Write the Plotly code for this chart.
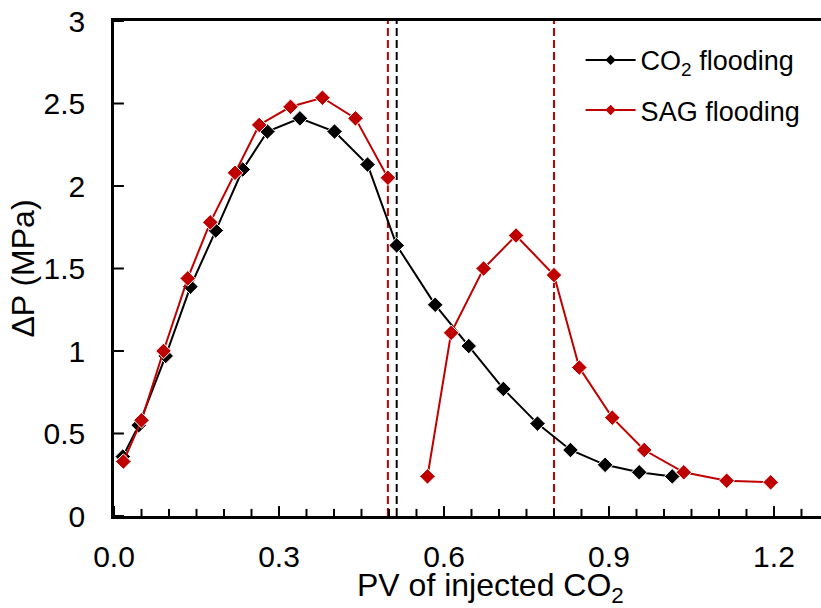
import plotly.graph_objects as go

# Pressure drop across the core vs. injected pore volumes
co2_pv = [0.016, 0.045, 0.094, 0.139, 0.185, 0.234, 0.279, 0.338, 0.401, 0.461,
          0.514, 0.584, 0.645, 0.708, 0.770, 0.830, 0.893, 0.955, 1.015]
co2_dp = [0.36, 0.55, 0.97, 1.39, 1.73, 2.10, 2.33, 2.41, 2.33, 2.13,
          1.64, 1.28, 1.03, 0.77, 0.56, 0.40, 0.31, 0.265, 0.24]

# SAG flooding: gas slug stage, then a break, then the following cycle
sag_pv = [0.017, 0.050, 0.090, 0.134, 0.175, 0.220, 0.264, 0.321, 0.379, 0.439, 0.498,
          None,
          0.570, 0.613, 0.672, 0.731, 0.800, 0.846, 0.906, 0.964, 1.036, 1.114, 1.194]
sag_dp = [0.33, 0.58, 1.00, 1.44, 1.78, 2.08, 2.37, 2.48, 2.535, 2.41, 2.05,
          None,
          0.24, 1.11, 1.50, 1.70, 1.46, 0.90, 0.596, 0.40, 0.265, 0.214, 0.204]

# Reference lines (breakthrough / slug switch points)
co2_marks = [0.514]
sag_marks = [0.498, 0.800]

# Axis ticks
x_major = [0.0, 0.3, 0.6, 0.9, 1.2]
x_minor = [0.05, 0.10, 0.15, 0.20, 0.25, 0.35, 0.40, 0.45, 0.50, 0.55,
           0.65, 0.70, 0.75, 0.80, 0.85, 0.95, 1.00, 1.05, 1.10, 1.15, 1.25]
y_major = [0, 0.5, 1, 1.5, 2, 2.5, 3]

BLACK = "#000000"
RED = "#C00000"
FONT = "Liberation Sans, Arial, sans-serif"

fig = go.Figure()

for xs, ys, col in [(co2_pv, co2_dp, BLACK), (sag_pv, sag_dp, RED)]:
    fig.add_trace(go.Scatter(
        x=xs, y=ys, mode="lines+markers", showlegend=False,
        line=dict(color=col, width=2),
        marker=dict(symbol="diamond", size=12, color=col,
                    line=dict(color="white", width=1)),
        connectgaps=False,
    ))

# Legend entries (smaller markers than the plotted points)
for name, col in [("CO<sub>2</sub> flooding", BLACK), ("SAG flooding", RED)]:
    fig.add_trace(go.Scatter(
        x=[None], y=[None], mode="lines+markers", name=name,
        line=dict(color=col, width=2),
        marker=dict(symbol="diamond", size=8, color=col),
        legendgroup=name,
    ))

for xv in co2_marks:
    fig.add_shape(type="line", xref="x", yref="paper", x0=xv, x1=xv, y0=0, y1=1,
                  line=dict(color=BLACK, width=2, dash="8px,4px"), layer="below")
for xv in sag_marks:
    fig.add_shape(type="line", xref="x", yref="paper", x0=xv, x1=xv, y0=0, y1=1,
                  line=dict(color=RED, width=2, dash="8px,4px"), layer="below")

# Inward tick marks along the bottom and left axes (lengths in axis units)
X_TICK_MAJOR, X_TICK_MINOR, Y_TICK = 0.06, 0.043, 0.018
for xv, ln in [(v, X_TICK_MAJOR) for v in x_major] + [(v, X_TICK_MINOR) for v in x_minor]:
    fig.add_shape(type="line", xref="x", yref="y",
                  x0=xv, x1=xv, y0=0, y1=ln,
                  line=dict(color=BLACK, width=2), layer="above")
for yv in y_major:
    fig.add_shape(type="line", xref="x", yref="y",
                  x0=0, x1=Y_TICK, y0=yv, y1=yv,
                  line=dict(color=BLACK, width=2), layer="above")

fig.add_annotation(text="PV of injected CO<sub>2</sub>", xref="paper", yref="paper",
                   x=0.532, y=-0.144, xanchor="center", yanchor="middle",
                   showarrow=False, font=dict(size=32, color=BLACK, family=FONT))

fig.update_layout(
    template="none",
    width=821, height=608,
    margin=dict(l=114, r=0, t=21, b=92),
    paper_bgcolor="white", plot_bgcolor="white",
    font=dict(family=FONT, color=BLACK, size=27),
    legend=dict(x=0.66, y=0.97, xanchor="left", yanchor="top",
                bgcolor="rgba(0,0,0,0)", font=dict(size=27),
                tracegroupgap=12, itemwidth=50),
    xaxis=dict(range=[0, 1.2855], tickmode="array", tickvals=x_major,
               tickformat=".1f", ticks="",
               showline=True, linecolor=BLACK, linewidth=2.5, mirror=True,
               showgrid=False, zeroline=False, ticklabelstandoff=12,
               tickfont=dict(size=30)),
    yaxis=dict(range=[0, 3], tickmode="array", tickvals=y_major,
               ticks="", showline=True, linecolor=BLACK, linewidth=2.5,
               showgrid=False, zeroline=False, ticklabelstandoff=20,
               tickfont=dict(size=30),
               title=dict(text="ΔP (MPa)", font=dict(size=32), standoff=0)),
)

fig.write_html("out.html")
